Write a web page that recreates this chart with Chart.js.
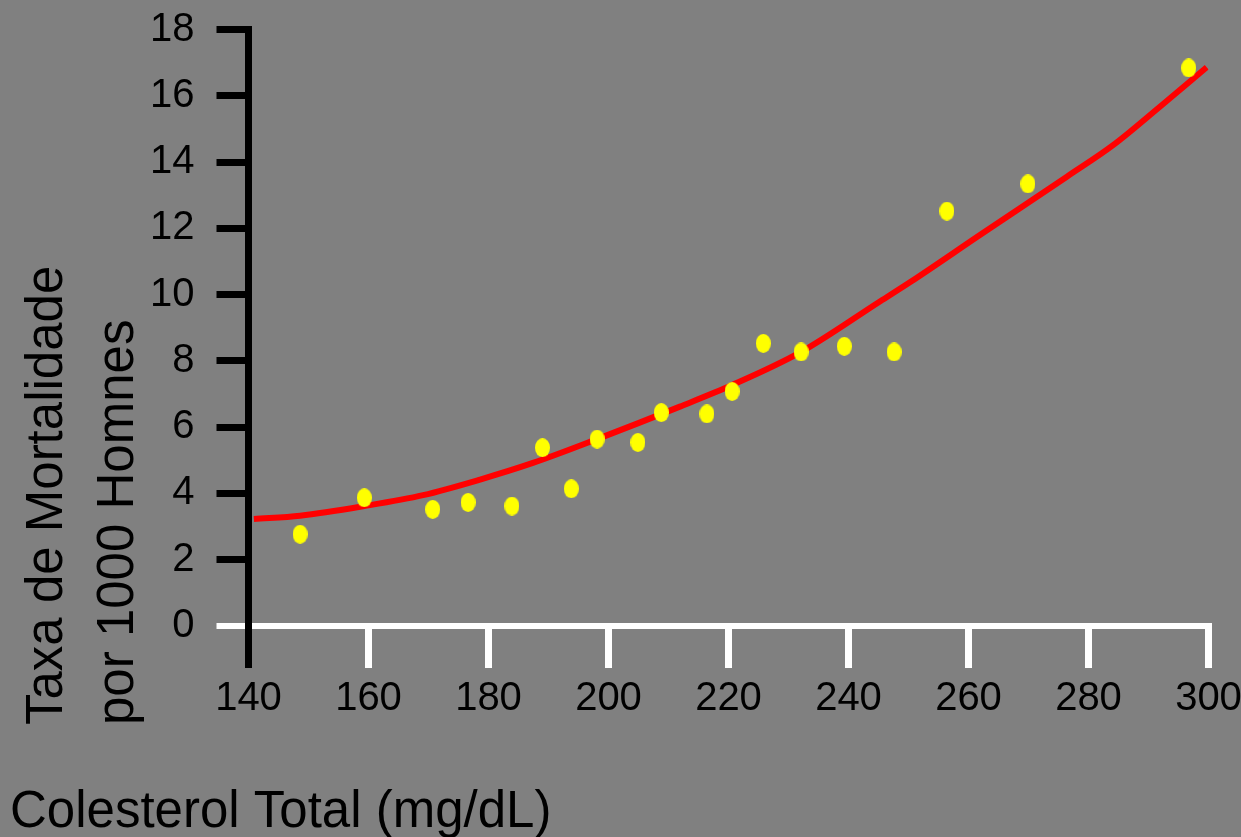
<!DOCTYPE html>
<html>
<head>
<meta charset="utf-8">
<title>Colesterol Total e Mortalidade</title>
<script src="https://cdn.jsdelivr.net/npm/chart.js@4.4.0/dist/chart.umd.min.js"></script>
<style>
  html, body { margin: 0; padding: 0; background: #808080; }
  #wrap { width: 1241px; height: 837px; position: relative; }
  canvas { display: block; }
</style>
</head>
<body>
<div id="wrap"><canvas id="chart" width="1241" height="837"></canvas></div>
<script>
// Observed points: total cholesterol (mg/dL) vs deaths per 1000 men
const cholesterol = [148.6, 159.3, 170.7, 176.6, 183.9, 189.0, 193.8, 198.1, 204.9, 208.8,
                     216.4, 220.6, 225.8, 232.1, 239.3, 247.6, 256.4, 269.9, 296.7];
const mortality   = [2.77, 3.87, 3.52, 3.73, 3.62, 5.38, 4.14, 5.64, 5.54, 6.44,
                     6.40, 7.08, 8.53, 8.27, 8.44, 8.27, 12.52, 13.34, 16.84];

// Trend curve through the data
const trendCholesterol = [140.9, 148.6, 159.3, 169.1, 178.6, 187.4, 198.1, 211.9, 220.6,
                          232.1, 245.3, 250.3, 261.9, 276.4, 284.1, 291.9, 299.7];
const trendMortality   = [3.23, 3.33, 3.62, 3.95, 4.42, 4.92, 5.64, 6.62, 7.27,
                          8.27, 9.80, 10.38, 11.80, 13.56, 14.51, 15.67, 16.86];

// Axis ticks
const xTickValues = [140, 160, 180, 200, 220, 240, 260, 280, 300];
const yTickValues = [0, 2, 4, 6, 8, 10, 12, 14, 16, 18];

const xTitle = 'Colesterol Total (mg/dL)';
const yTitleLines = ['Taxa de Mortalidade', 'por 1000 Homnes'];

const FONT = '"Liberation Sans", Arial, Helvetica, sans-serif';

// Slightly tall elliptical marker
function ellipseMarker(w, h, color) {
  const c = document.createElement('canvas');
  c.width = w; c.height = h;
  const g = c.getContext('2d');
  g.fillStyle = color;
  g.beginPath();
  g.ellipse(w / 2, h / 2, w / 2, h / 2, 0, 0, Math.PI * 2);
  g.fill();
  return c;
}
const dot = ellipseMarker(15, 19, '#ffff00');

const pointData = cholesterol.map((x, i) => ({ x: x, y: mortality[i] }));
const trendData = trendCholesterol.map((x, i) => ({ x: x, y: trendMortality[i] }));

// Gray backdrop and the free-standing axis titles
const decorations = {
  id: 'decorations',
  beforeDraw(chart) {
    const ctx = chart.ctx;
    ctx.save();
    ctx.fillStyle = '#808080';
    ctx.fillRect(0, 0, chart.width, chart.height);
    ctx.restore();
  },
  afterDraw(chart) {
    const ctx = chart.ctx;
    ctx.save();
    ctx.fillStyle = '#000000';
    ctx.font = '51px ' + FONT;
    ctx.textAlign = 'left';
    ctx.textBaseline = 'alphabetic';
    ctx.fillText(xTitle, 10, 827);
    yTitleLines.forEach((line, i) => {
      ctx.save();
      ctx.translate(62 + i * 71, 725);
      ctx.rotate(-Math.PI / 2);
      ctx.fillText(line, 0, 0);
      ctx.restore();
    });
    ctx.restore();
  }
};

new Chart(document.getElementById('chart'), {
  type: 'scatter',
  data: {
    datasets: [
      {
        label: 'Observado',
        data: pointData,
        pointStyle: dot,
        pointRadius: 9,
        pointHoverRadius: 9,
        showLine: false
      },
      {
        label: 'Tendência',
        data: trendData,
        showLine: true,
        borderColor: '#ff0000',
        borderWidth: 6,
        pointRadius: 0,
        pointHoverRadius: 0,
        cubicInterpolationMode: 'monotone',
        fill: false
      }
    ]
  },
  options: {
    responsive: false,
    devicePixelRatio: 1,
    animation: false,
    events: [],
    layout: { padding: { left: 0, top: 29.5, right: 32.5, bottom: 0 } },
    plugins: {
      legend: { display: false },
      tooltip: { enabled: false }
    },
    scales: {
      x: {
        type: 'linear',
        min: 140,
        max: 300,
        afterBuildTicks: s => { s.ticks = xTickValues.map(v => ({ value: v })); },
        afterFit: s => { s.height = 211; s.paddingLeft = 0; s.paddingRight = 0; },
        grid: {
          drawOnChartArea: false,
          drawTicks: true,
          tickLength: 42,
          color: c => (c.tick && c.tick.value === 140) ? '#000000' : '#ffffff',
          lineWidth: 7
        },
        border: { display: true, color: '#ffffff', width: 6 },
        ticks: {
          color: '#000000',
          padding: 7,
          maxRotation: 0,
          font: { family: FONT, size: 40 }
        }
      },
      y: {
        type: 'linear',
        min: 0,
        max: 18,
        z: 1,
        afterBuildTicks: s => { s.ticks = yTickValues.map(v => ({ value: v })); },
        afterFit: s => { s.width = 248.5; s.paddingTop = 0; s.paddingBottom = 0; },
        grid: {
          drawOnChartArea: false,
          drawTicks: true,
          tickLength: 32,
          color: c => (c.tick && c.tick.value === 0) ? '#ffffff' : '#000000',
          lineWidth: c => (c.tick && c.tick.value === 0) ? 6 : 7
        },
        border: { display: true, color: '#000000', width: 7 },
        ticks: {
          color: '#000000',
          padding: 22,
          font: { family: FONT, size: 40 }
        }
      }
    }
  },
  plugins: [decorations]
});
</script>
</body>
</html>
